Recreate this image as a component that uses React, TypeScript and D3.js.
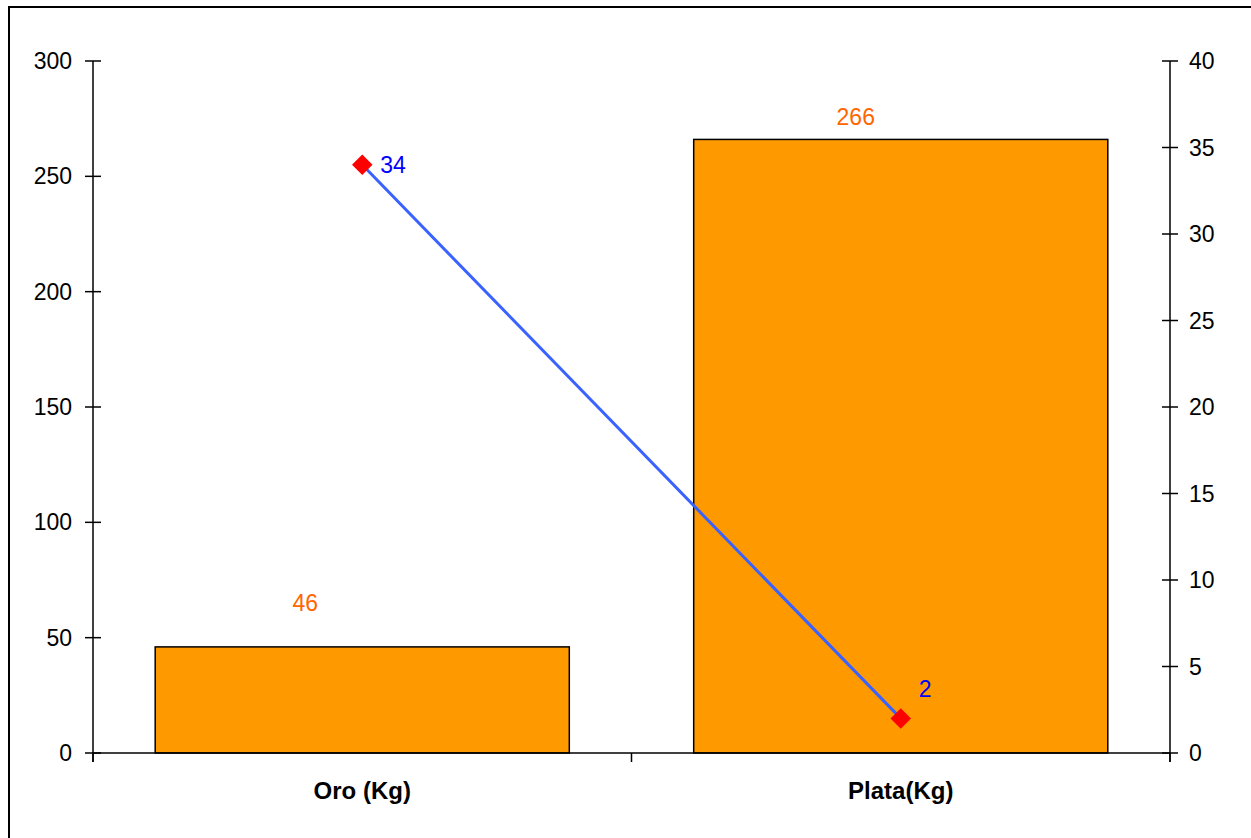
import { scaleBand, scaleLinear, line, symbol, symbolSquare } from "d3";

const categories = ["Oro (Kg)", "Plata(Kg)"];
const barValues = [46, 266];
const lineValues = [34, 2];
const leftTicks = [0, 50, 100, 150, 200, 250, 300];
const rightTicks = [0, 5, 10, 15, 20, 25, 30, 35, 40];

const width = 1251;
const height = 838;
const left = 93;
const right = 1170;
const top = 61;
const bottom = 753;
const font = "'Liberation Sans', Arial, sans-serif";

// label nudges
const barLabelDx = [-57, -45];
const barLabelDy = [-44, -22];

export default function App() {
  const x = scaleBand<string>()
    .domain(categories)
    .range([left, right])
    .paddingInner(0.231)
    .paddingOuter(0.1155);
  const yLeft = scaleLinear().domain([0, 300]).range([bottom, top]);
  const yRight = scaleLinear().domain([0, 40]).range([bottom, top]);
  const cx = (i: number) => (x(categories[i]) ?? 0) + x.bandwidth() / 2;

  const linePath = line<number>()
    .x((_, i) => cx(i))
    .y((d) => yRight(d))(lineValues);
  const marker = symbol().type(symbolSquare).size(210)() ?? "";
  const step = x.step();

  return (
    <div style={{ position: "absolute", left: 0, top: 0 }}>
      <svg width={width} height={height} viewBox={`0 0 ${width} ${height}`}>
        <rect x={0} y={0} width={width} height={height} fill="white" />
        <rect
          x={9}
          y={7}
          width={width + 20}
          height={height + 20}
          fill="none"
          stroke="black"
          strokeWidth={2}
        />
        <rect x={left} y={top} width={right - left} height={bottom - top} fill="white" />

        {barValues.map((v, i) => (
          <rect
            key={i}
            x={x(categories[i])}
            y={yLeft(v)}
            width={x.bandwidth()}
            height={bottom - yLeft(v)}
            fill="#ff9900"
            stroke="black"
            strokeWidth={1.5}
          />
        ))}

        {/* x axis */}
        <line x1={left} x2={right} y1={bottom} y2={bottom} stroke="black" strokeWidth={1.5} />
        {[0, 1, 2].map((k) => (
          <line
            key={k}
            x1={left + k * step}
            x2={left + k * step}
            y1={bottom}
            y2={bottom + 9}
            stroke="black"
            strokeWidth={1.5}
          />
        ))}
        {categories.map((c, i) => (
          <text
            key={c}
            x={cx(i)}
            y={799}
            textAnchor="middle"
            fontFamily={font}
            fontWeight="bold"
            fontSize={24}
          >
            {c}
          </text>
        ))}

        {/* left axis */}
        <line x1={left} x2={left} y1={top} y2={bottom + 9} stroke="black" strokeWidth={1.5} />
        {leftTicks.map((t) => (
          <g key={t}>
            <line x1={left - 8} x2={left + 8} y1={yLeft(t)} y2={yLeft(t)} stroke="black" strokeWidth={1.5} />
            <text
              x={72}
              y={yLeft(t)}
              dy="0.35em"
              textAnchor="end"
              fontFamily={font}
              fontSize={23}
            >
              {t}
            </text>
          </g>
        ))}

        {/* right axis */}
        <line x1={right} x2={right} y1={top} y2={bottom + 9} stroke="black" strokeWidth={1.5} />
        {rightTicks.map((t) => (
          <g key={t}>
            <line x1={right - 8} x2={right + 8} y1={yRight(t)} y2={yRight(t)} stroke="black" strokeWidth={1.5} />
            <text
              x={1189}
              y={yRight(t)}
              dy="0.35em"
              textAnchor="start"
              fontFamily={font}
              fontSize={23}
            >
              {t}
            </text>
          </g>
        ))}

        {/* bar labels */}
        {barValues.map((v, i) => (
          <text
            key={i}
            x={cx(i) + barLabelDx[i]}
            y={yLeft(v) + barLabelDy[i]}
            dy="0.35em"
            textAnchor="middle"
            fontFamily={font}
            fontSize={23}
            fill="#ff6600"
          >
            {v}
          </text>
        ))}

        {/* line series */}
        <path d={linePath ?? ""} fill="none" stroke="#3a62ff" strokeWidth={3} />
        {lineValues.map((v, i) => (
          <path
            key={i}
            d={marker}
            transform={`translate(${cx(i)},${yRight(v)}) rotate(45)`}
            fill="#ff0000"
          />
        ))}
        {lineValues.map((v, i) => (
          <text
            key={i}
            x={cx(i) + 18}
            y={yRight(v) + (i === 0 ? 0 : -29)}
            dy="0.35em"
            textAnchor="start"
            fontFamily={font}
            fontSize={23}
            fill="#0000ff"
          >
            {v}
          </text>
        ))}
      </svg>
    </div>
  );
}
